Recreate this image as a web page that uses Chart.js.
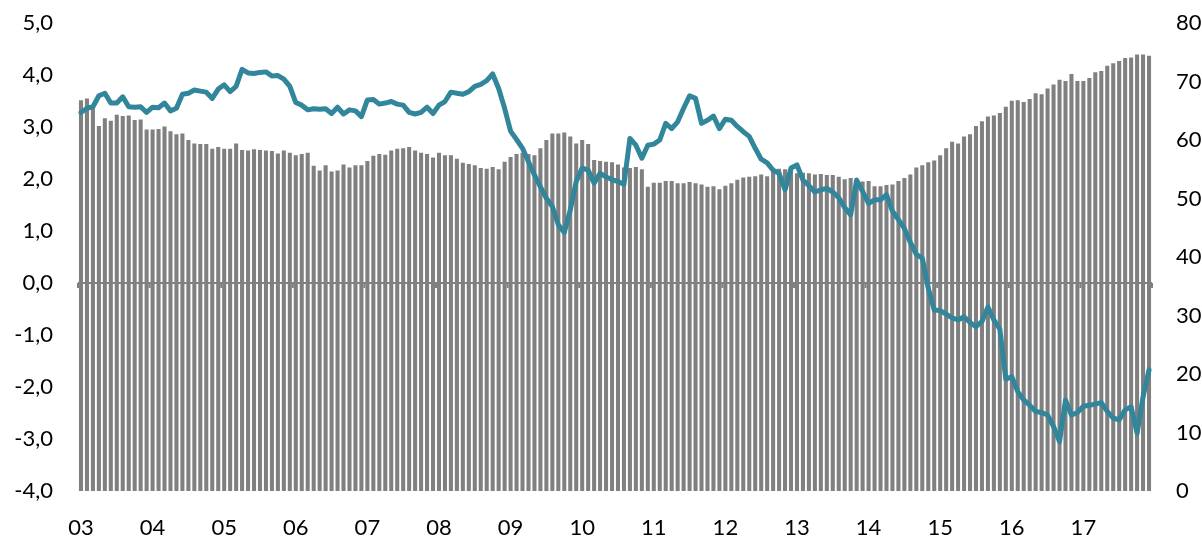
<!DOCTYPE html>
<html>
<head>
<meta charset="utf-8">
<script src="https://cdn.jsdelivr.net/npm/chart.js@4.4.1/dist/chart.umd.min.js"></script>
<style>
  html, body { margin: 0; padding: 0; background: #ffffff; }
  #wrap { width: 1202px; height: 538px; }
</style>
</head>
<body>
<div id="wrap"><canvas id="c" width="1202" height="538"></canvas></div>
<script>
// Tick labels for the years (one per January)
const yearLabels = ['03','04','05','06','07','08','09','10','11','12','13','14','15','16','17'];

// Monthly categories Jan 2003 .. Dec 2017
const months = [];
yearLabels.forEach(y => { for (let m = 1; m <= 12; m++) months.push(y + '-' + (m < 10 ? '0' + m : m)); });

// Bars (right axis, 0..80)
const barValues = [
  66.8, 67.1, 65.5, 62.4, 63.7, 63.3, 64.3, 64.1, 64.2, 63.4, 63.5, 61.8,
  61.8, 61.9, 62.3, 61.5, 61.0, 61.1, 60.0, 59.4, 59.3, 59.3, 58.5, 58.8,
  58.5, 58.5, 59.4, 58.3, 58.2, 58.4, 58.3, 58.2, 58.1, 57.7, 58.2, 57.8,
  57.4, 57.6, 57.8, 55.6, 54.8, 55.7, 54.6, 54.8, 55.8, 55.3, 55.7, 55.7,
  56.4, 57.3, 57.6, 57.5, 58.2, 58.5, 58.6, 58.8, 58.2, 57.8, 57.6, 57.0,
  57.8, 57.4, 57.4, 56.8, 56.1, 55.9, 55.7, 55.2, 55.1, 55.4, 55.0, 56.3,
  57.1, 57.6, 57.8, 57.6, 57.4, 58.6, 60.0, 61.1, 61.1, 61.3, 60.6, 59.4,
  60.0, 59.3, 56.6, 56.4, 56.3, 56.2, 55.8, 55.3, 55.2, 55.4, 55.0, 52.0,
  52.7, 52.7, 53.0, 53.0, 52.6, 52.6, 52.8, 52.6, 52.4, 52.0, 52.1, 51.6,
  52.2, 52.6, 53.2, 53.6, 53.7, 53.8, 54.1, 53.8, 54.9, 55.1, 55.0, 55.0,
  54.3, 54.4, 54.3, 54.1, 54.2, 54.0, 54.0, 53.7, 53.3, 53.5, 53.2, 52.9,
  53.0, 52.1, 52.1, 52.3, 52.4, 53.0, 53.5, 54.1, 55.3, 55.7, 56.2, 56.5,
  57.4, 58.6, 59.7, 59.4, 60.6, 61.0, 62.4, 63.2, 64.0, 64.2, 64.6, 65.7,
  66.7, 66.8, 66.5, 67.0, 68.0, 67.8, 68.8, 69.5, 70.3, 70.1, 71.3, 70.1,
  70.1, 70.6, 71.6, 71.8, 72.7, 73.1, 73.5, 74.0, 74.1, 74.6, 74.6, 74.4
];

// Line (left axis, -4..5)
const lineValues = [
  3.28, 3.36, 3.39, 3.60, 3.65, 3.46, 3.46, 3.58, 3.39, 3.38, 3.39, 3.28,
  3.38, 3.37, 3.46, 3.31, 3.36, 3.63, 3.65, 3.71, 3.69, 3.67, 3.55, 3.73,
  3.81, 3.68, 3.78, 4.11, 4.04, 4.03, 4.05, 4.06, 3.98, 3.99, 3.92, 3.78,
  3.47, 3.42, 3.33, 3.35, 3.34, 3.35, 3.26, 3.38, 3.25, 3.33, 3.31, 3.20,
  3.52, 3.53, 3.44, 3.46, 3.49, 3.44, 3.42, 3.28, 3.25, 3.28, 3.38, 3.26,
  3.42, 3.49, 3.67, 3.65, 3.63, 3.68, 3.78, 3.82, 3.89, 4.02, 3.74, 3.36,
  2.92, 2.76, 2.59, 2.33, 2.08, 1.85, 1.63, 1.47, 1.12, 0.97, 1.40, 1.95,
  2.21, 2.17, 1.92, 2.11, 2.04, 1.99, 1.95, 1.90, 2.78, 2.65, 2.40, 2.65,
  2.67, 2.75, 3.07, 2.97, 3.10, 3.36, 3.60, 3.55, 3.07, 3.13, 3.21, 2.97,
  3.15, 3.13, 3.01, 2.91, 2.82, 2.59, 2.38, 2.31, 2.17, 2.11, 1.79, 2.21,
  2.27, 1.98, 1.87, 1.75, 1.79, 1.82, 1.75, 1.64, 1.45, 1.31, 1.98, 1.76,
  1.53, 1.60, 1.60, 1.70, 1.38, 1.22, 1.05, 0.78, 0.55, 0.48, -0.10, -0.52,
  -0.53, -0.60, -0.67, -0.71, -0.65, -0.76, -0.84, -0.74, -0.46, -0.71, -0.89, -1.85,
  -1.80, -2.09, -2.25, -2.35, -2.47, -2.49, -2.54, -2.76, -3.05, -2.25, -2.54, -2.49,
  -2.37, -2.35, -2.33, -2.30, -2.47, -2.60, -2.63, -2.44, -2.38, -2.89, -2.19, -1.67
];

const FONT = { family: 'Lato', size: 22 };
const TEXT = '#000000';
const GREY = '#808080';
const TEAL = '#31869B';

// Draw the category axis at y=0 of the left axis, with tick marks at year boundaries
const zeroAxis = {
  id: 'zeroAxis',
  beforeDatasetsDraw(chart) {
    const { ctx, chartArea, scales } = chart;
    const xs = scales.x, yl = scales.yL;
    const y0 = yl.getPixelForValue(0);
    const half = (xs.getPixelForValue(1) - xs.getPixelForValue(0)) / 2;
    ctx.save();
    ctx.strokeStyle = GREY;
    ctx.lineWidth = 2;
    ctx.beginPath();
    ctx.moveTo(chartArea.left, y0);
    ctx.lineTo(chartArea.right, y0);
    ctx.stroke();
    for (let k = 0; k <= yearLabels.length; k++) {
      const idx = Math.min(k * 12, months.length - 1);
      const x = k * 12 < months.length ? xs.getPixelForValue(idx) - half : xs.getPixelForValue(idx) + half;
      ctx.beginPath();
      ctx.moveTo(x, y0);
      ctx.lineTo(x, y0 + 5);
      ctx.stroke();
    }
    ctx.restore();
  }
};

const fixY = w => s => { s.width = w; s.paddingTop = 0; s.paddingBottom = 0; };

new Chart(document.getElementById('c'), {
  data: {
    labels: months,
    datasets: [
      {
        type: 'line',
        data: lineValues,
        yAxisID: 'yL',
        borderColor: TEAL,
        borderWidth: 5,
        pointRadius: 0,
        tension: 0,
        borderJoinStyle: 'round',
        borderCapStyle: 'round',
        fill: false,
        order: 0
      },
      {
        type: 'bar',
        data: barValues,
        yAxisID: 'yR',
        backgroundColor: GREY,
        borderWidth: 0,
        categoryPercentage: 1.0,
        barPercentage: 0.68,
        order: 1
      }
    ]
  },
  options: {
    responsive: false,
    animation: false,
    devicePixelRatio: 1,
    layout: { padding: { top: 23, left: 0, right: 0, bottom: 0 } },
    plugins: { legend: { display: false }, tooltip: { enabled: false } },
    scales: {
      x: {
        type: 'category',
        offset: true,
        grid: { display: false, drawTicks: false },
        border: { display: false },
        ticks: {
          autoSkip: false,
          maxRotation: 0,
          minRotation: 0,
          padding: 24,
          color: TEXT,
          font: FONT,
          callback: (v, i) => (i % 12 === 0 ? yearLabels[i / 12] : '')
        },
        afterFit: s => { s.height = 47; s.paddingLeft = 0; s.paddingRight = 0; }
      },
      yL: {
        position: 'left',
        min: -4,
        max: 5,
        grid: { display: false, drawTicks: false },
        border: { display: false },
        ticks: {
          stepSize: 1,
          padding: 25,
          color: TEXT,
          font: FONT,
          callback: v => v.toFixed(1).replace('.', ',')
        },
        afterFit: fixY(78)
      },
      yR: {
        position: 'right',
        min: 0,
        max: 80,
        grid: { display: false, drawTicks: false },
        border: { display: false },
        ticks: {
          stepSize: 10,
          padding: 24,
          color: TEXT,
          font: FONT,
          callback: v => String(v)
        },
        afterFit: fixY(50)
      }
    }
  },
  plugins: [zeroAxis]
});
</script>
</body>
</html>
